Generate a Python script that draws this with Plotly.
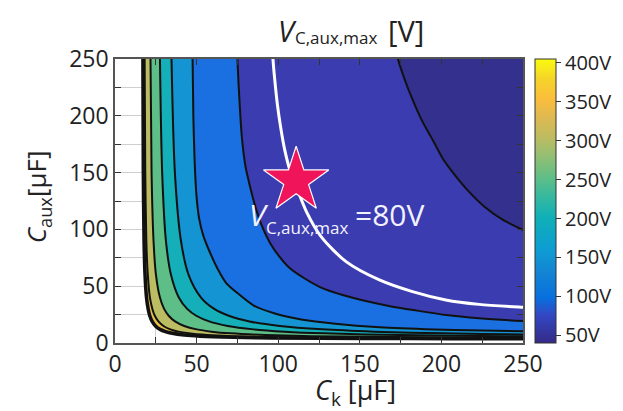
import plotly.graph_objects as go

# ---- data: contour lines of V_C,aux,max (Ck, Caux in uF) ----
lvl400_ck = [17.06, 17.35, 17.8, 18.4, 19.3, 20.3, 21.3, 22.75, 24.8, 27.6, 30.9, 35.0, 42.4, 51.9, 72.6, 95.9, 152.4, 206.7, 266.7]
lvl400_caux = [265, 150, 90, 60, 40, 30, 24, 19, 15, 12, 10, 8.5, 7, 6, 5, 4.5, 4.0, 3.8, 3.68]

lvl350_ck = [18.1, 18.55, 19.2, 20.1, 21.4, 22.9, 24.4, 26.6, 29.7, 33.9, 38.8, 45.1, 56.5, 71.4, 105.1, 144.9, 250.9, 272]
lvl350_caux = [265, 150, 90, 60, 40, 30, 24, 19, 15, 12, 10, 8.5, 7, 6, 5, 4.5, 4.0, 3.95]

lvl300_ck = [21.66, 22.4, 23.6, 25.1, 27.55, 30.1, 32.9, 36.8, 42.4, 50.1, 59.2, 70.7, 92.1, 120.7, 187.4, 247.7, 283.7]
lvl300_caux = [265, 150, 90, 60, 40, 30, 24, 19, 15, 12, 10, 8.5, 7, 6, 5, 4.6, 4.45]

lvl250_ck = [27.4, 28.9, 31.2, 34.3, 39.1, 44.2, 49.8, 57.7, 69.1, 84.9, 103.8, 128.2, 174.9, 239.5, 285]
lvl250_caux = [265, 150, 90, 60, 40, 30, 24, 19, 15, 12, 10, 8.5, 7, 6, 5.6]

lvl200_ck = [34.4, 36.7, 40.4, 45.1, 52.7, 60.8, 69.7, 82.4, 100.9, 126.9, 158.7, 201.1, 249.5, 285.5]
lvl200_caux = [265, 150, 90, 60, 40, 30, 24, 19, 15, 12, 10, 8.5, 7.5, 7]

lvl150_ck = [47.4, 48.0, 48.8, 49.9, 51.5, 54, 58.4, 63, 68, 75, 85, 98, 115, 135, 160, 190, 225, 265]
lvl150_caux = [265, 200, 160, 130, 110, 95, 79, 65, 53, 44, 33, 26, 20.5, 17, 14, 12.2, 10.9, 9.9]

lvl100_ck = [74.8, 75, 76.2, 77.8, 80, 82.7, 86, 90, 95, 100.5, 107, 116, 126, 140, 155, 170, 185, 203, 223, 250, 265]
lvl100_caux = [265, 250, 215, 180, 155, 138, 120, 103, 88, 76.5, 66, 57, 49, 42, 36.5, 32, 28.5, 24.6, 21.8, 19.3, 18.3]

lvl80_ck = [96.5, 96.8, 98.0, 99.5, 101.5, 104, 107, 111, 117.5, 126.3, 141.6, 162, 182.3, 202.7, 223.1, 250, 265]
lvl80_caux = [265, 250, 230, 210, 190, 170, 153, 138, 115, 93.6, 71.6, 55.5, 45.2, 37.9, 34.0, 31.4, 30.3]

lvl50_ck = [172, 173.4, 178, 182.4, 188, 194.6, 201, 209, 217, 226.2, 237, 250, 265]
lvl50_caux = [265, 250, 230, 214, 196, 179, 162, 146.5, 133, 120.2, 109, 99.6, 90]

star_ck = [111]
star_caux = [143]

cbar_ticks = [50, 100, 150, 200, 250, 300, 350, 400]
cbar_labels = ["50V", "100V", "150V", "200V", "250V", "300V", "350V", "400V"]
axis_ticks = [0, 50, 100, 150, 200, 250]

# ---- styling ----
FONT = "Open Sans"
parula = [
    [0.00, "#352a87"], [0.10, "#3348c4"], [0.16, "#0870de"], [0.25, "#1485d4"],
    [0.33, "#0d9dd2"], [0.44, "#0fafb8"], [0.52, "#38b99d"], [0.58, "#5ebe88"],
    [0.66, "#94bf72"], [0.72, "#bbbc62"], [0.80, "#e1b951"], [0.86, "#fbbe3c"],
    [0.93, "#f5d42a"], [1.00, "#f9fb0e"],
]

# page body has an 8px default margin: figure is sized so the plot lands where the reference has it
OFF = 8
L, T, R, B = 115 - OFF, 59 - OFF, 99, 68
W_FIG, H_FIG = 623 - OFF, 411 - OFF


def px(xp):
    return (xp - 115) / 409.0


def py(yp):
    return (343 - yp) / 284.0


fig = go.Figure()

bands = [
    (lvl400_ck, lvl400_caux, "#e6be4a"),
    (lvl350_ck, lvl350_caux, "#bcbc62"),
    (lvl300_ck, lvl300_caux, "#5ebe88"),
    (lvl250_ck, lvl250_caux, "#14afb8"),
    (lvl200_ck, lvl200_caux, "#1494d2"),
    (lvl150_ck, lvl150_caux, "#1a70e0"),
    (lvl100_ck, lvl100_caux, "#3b3cb0"),
    (lvl50_ck, lvl50_caux, "#33308e"),
]
for ck, ca, col in bands:
    xs = list(ck) + [320, 320, ck[0]]
    ys = list(ca) + [ca[-1], 320, 320]
    fig.add_trace(go.Scatter(x=xs, y=ys, mode="lines", fill="toself", fillcolor=col,
                             line=dict(width=0, color=col, shape="spline", smoothing=0.8),
                             hoverinfo="skip", showlegend=False))

lines = [
    (lvl400_ck, lvl400_caux, "#111", 3.5),
    (lvl350_ck, lvl350_caux, "#111", 2),
    (lvl300_ck, lvl300_caux, "#111", 2),
    (lvl250_ck, lvl250_caux, "#111", 2),
    (lvl200_ck, lvl200_caux, "#111", 2),
    (lvl150_ck, lvl150_caux, "#111", 2),
    (lvl100_ck, lvl100_caux, "#111", 2),
    (lvl50_ck, lvl50_caux, "#111", 2),
    (lvl80_ck, lvl80_caux, "white", 3),
]
for ck, ca, col, w in lines:
    fig.add_trace(go.Scatter(x=ck, y=ca, mode="lines",
                             line=dict(width=w, color=col, shape="spline", smoothing=0.8),
                             hoverinfo="skip", showlegend=False))

fig.add_trace(go.Scatter(x=star_ck, y=star_caux, mode="markers",
                         marker=dict(symbol="star", size=49, color="#f0145a",
                                     line=dict(color="white", width=1.2)),
                         showlegend=False))

fig.add_trace(go.Scatter(x=[None], y=[None], mode="markers", showlegend=False,
                         marker=dict(color=[40], cmin=40, cmax=405, colorscale=parula, showscale=True,
                                     colorbar=dict(x=px(535), xanchor="left", xpad=0, ypad=0,
                                                   y=0.5, yanchor="middle", len=1, lenmode="fraction",
                                                   thickness=21, outlinewidth=1, outlinecolor="#333",
                                                   tickmode="array", tickvals=cbar_ticks, ticktext=cbar_labels,
                                                   ticks="outside", ticklen=5, tickcolor="#333",
                                                   tickfont=dict(family=FONT, size=20, color="#222")))))

axis_common = dict(range=[0, 250], tickvals=axis_ticks, ticks="inside", ticklen=6, tickcolor="#333",
                   showline=True, linecolor="#555", linewidth=1.5, mirror="allticks",
                   showgrid=True, gridcolor="#cfcfcf", gridwidth=1, zeroline=False,
                   minor=dict(dtick=25, ticks="inside", ticklen=6, tickcolor="#333",
                              showgrid=True, gridcolor="#cfcfcf"),
                   tickfont=dict(family=FONT, size=23, color="#222"))
fig.update_xaxes(**axis_common)
fig.update_yaxes(**axis_common)


def txt(s, xp, yp, size, anchor="left", color="#222", angle=0):
    return dict(text=s, xref="paper", yref="paper", x=px(xp), y=py(yp), xanchor=anchor,
                yanchor="middle", showarrow=False, textangle=angle,
                font=dict(family=FONT, size=size, color=color))


WHITE = "#f2f2ff"
fig.update_layout(
    width=W_FIG, height=H_FIG,
    margin=dict(l=L, r=R, t=T, b=B),
    paper_bgcolor="white", plot_bgcolor="white",
    annotations=[
        # title
        txt("<i>V</i>", 276, 30, 29),
        txt("C,aux,max", 293, 38, 17),
        txt("[V]", 387, 30, 29),
        # x title
        txt("<i>C</i><sub>k</sub> [μF]", 356, 391, 27, anchor="center"),
        # y title
        txt("<i>C</i><sub>aux</sub>[μF]", 37, 197, 26, anchor="center", angle=-90),
        # label on the white contour
        txt("<i>V</i>", 247, 214, 30, color=WHITE),
        txt("C,aux,max", 264, 227, 17, color=WHITE),
        txt("=80V", 354, 214, 30, color=WHITE),
    ],
)

fig.write_html("out.html")
